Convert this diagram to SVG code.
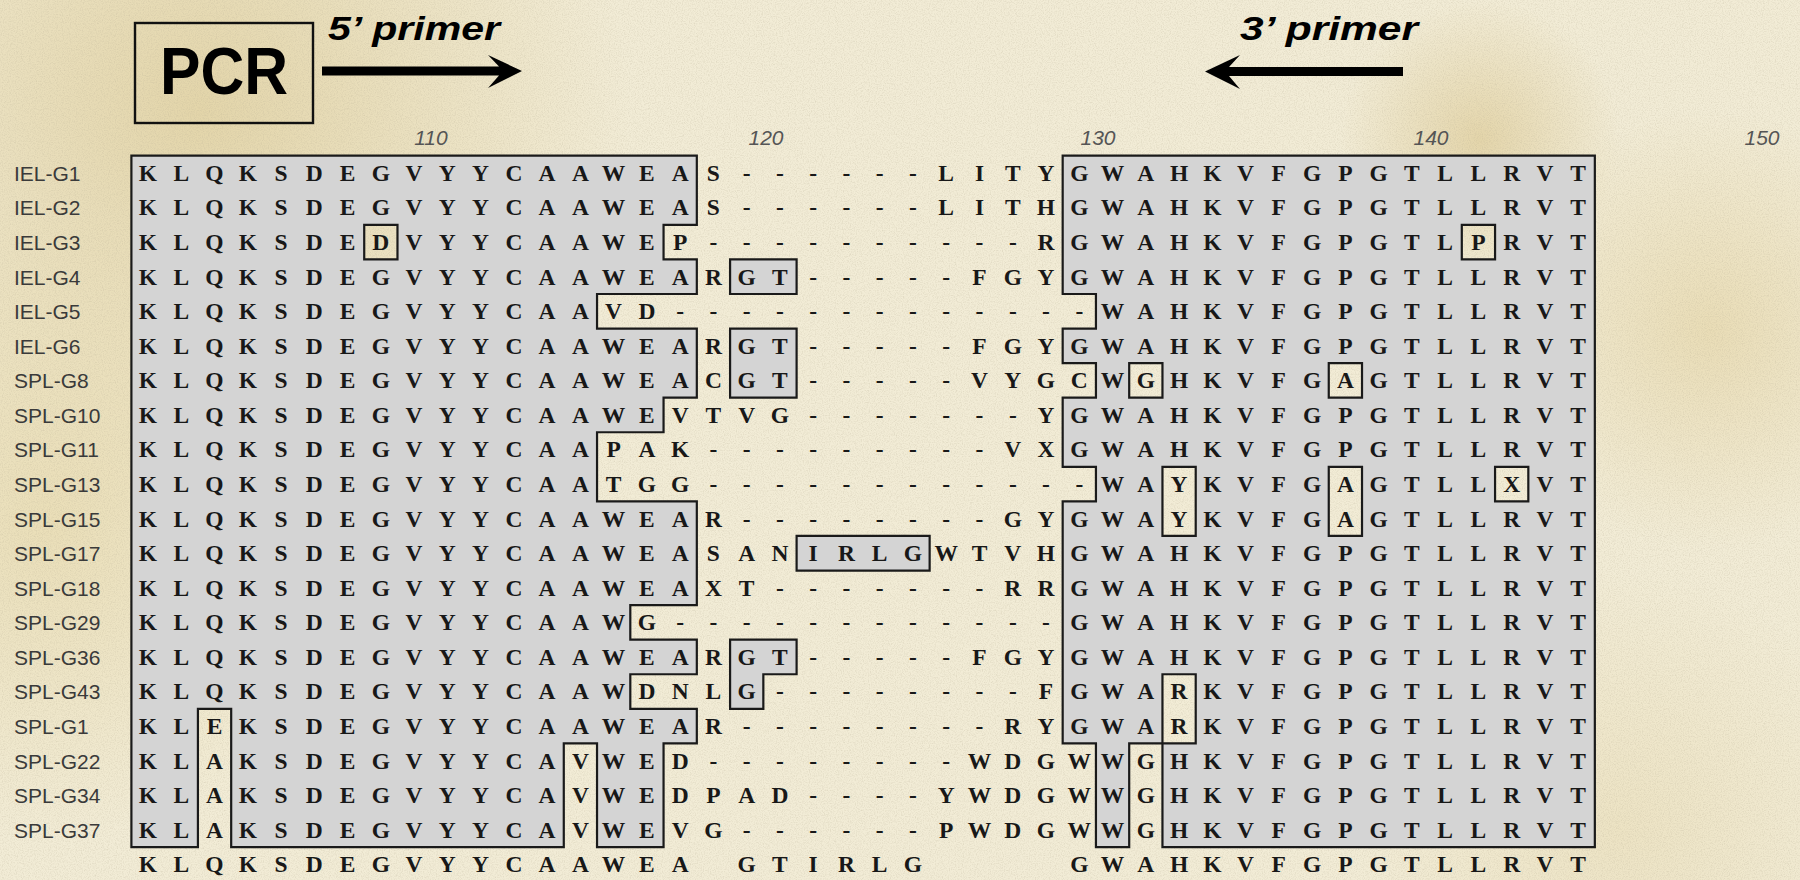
<svg xmlns="http://www.w3.org/2000/svg" width="1800" height="880" viewBox="0 0 1800 880">
<defs>
<style>
.seq{font-family:"Liberation Serif","Times New Roman",serif;font-weight:bold;font-size:23.5px;fill:#181818;text-anchor:middle}
.lab{font-family:"Liberation Sans",Arial,sans-serif;font-size:21px;fill:#3a3a3a}
.num{font-family:"Liberation Sans",Arial,sans-serif;font-style:italic;font-size:21px;fill:#555;text-anchor:middle}
.hdr{font-family:"Liberation Sans",Arial,sans-serif;font-weight:bold;font-style:italic;font-size:34px;fill:#000}
.reg{fill:#d4d4d4;fill-rule:evenodd;stroke:#1a1a1a;stroke-width:2.2;stroke-linejoin:miter}
</style>
<radialGradient id="g1" cx="200" cy="110" r="430" gradientUnits="userSpaceOnUse"><stop offset="0" stop-color="#dfcf9e" stop-opacity="0.8"/><stop offset="1" stop-color="#dfcf9e" stop-opacity="0"/></radialGradient>
<radialGradient id="g2" cx="50" cy="520" r="320" gradientUnits="userSpaceOnUse"><stop offset="0" stop-color="#e6d8aa" stop-opacity="0.7"/><stop offset="1" stop-color="#e6d8aa" stop-opacity="0"/></radialGradient>
<radialGradient id="g3" cx="1480" cy="140" r="140" gradientUnits="userSpaceOnUse"><stop offset="0" stop-color="#d8c286" stop-opacity="0.55"/><stop offset="1" stop-color="#d8c286" stop-opacity="0"/></radialGradient>
<radialGradient id="g4" cx="1710" cy="330" r="220" gradientUnits="userSpaceOnUse"><stop offset="0" stop-color="#e2d09c" stop-opacity="0.55"/><stop offset="1" stop-color="#e2d09c" stop-opacity="0"/></radialGradient>
<radialGradient id="g5" cx="1620" cy="830" r="260" gradientUnits="userSpaceOnUse"><stop offset="0" stop-color="#e6d8ad" stop-opacity="0.45"/><stop offset="1" stop-color="#e6d8ad" stop-opacity="0"/></radialGradient>
<filter id="grain" filterUnits="userSpaceOnUse" x="0" y="0" width="1800" height="880">
<feTurbulence type="fractalNoise" baseFrequency="0.85" numOctaves="2" seed="4"/>
<feColorMatrix type="matrix" values="0 0 0 0 0.45  0 0 0 0 0.40  0 0 0 0 0.28  0.6 0 0 0 -0.25"/>
</filter>
</defs>

<g id="background">
<rect width="1800" height="880" fill="#f2ecd6"/>
<rect width="1800" height="880" fill="url(#g1)"/>
<rect width="1800" height="880" fill="url(#g2)"/>
<rect width="1800" height="880" fill="url(#g3)"/>
<rect width="1800" height="880" fill="url(#g4)"/>
<rect width="1800" height="880" fill="url(#g5)"/>
<rect width="1800" height="880" filter="url(#grain)"/>
</g>

<g id="header">
<g id="pcr">
<rect x="135" y="23" width="178" height="100" fill="none" stroke="#111" stroke-width="2.4"/>
<text x="160" y="94" textLength="128" lengthAdjust="spacingAndGlyphs" style="font-family:'Liberation Sans',Arial,sans-serif;font-weight:bold;font-size:66px;fill:#000">PCR</text>
</g>
<g id="primer5">
<text class="hdr" x="328" y="39.5" textLength="172" lengthAdjust="spacingAndGlyphs">5’ primer</text>
<path d="M322,66.5 H499 L488,55 L522,71 L488,88 L499,75.5 H322 Z" fill="#000"/>
</g>
<g id="primer3">
<text class="hdr" x="1240" y="40" textLength="178" lengthAdjust="spacingAndGlyphs">3’ primer</text>
<path d="M1403,67 H1229 L1240,55 L1205,71.5 L1240,89 L1229,76 H1403 Z" fill="#000"/>
</g>
<g id="ruler">
<text class="num" x="431" y="145">110</text>
<text class="num" x="766" y="145">120</text>
<text class="num" x="1098" y="145">130</text>
<text class="num" x="1431" y="145">140</text>
<text class="num" x="1762" y="145">150</text>
</g>
</g>

<g id="regions" transform="translate(131.4 155.7) scale(33.26 34.57)">
<path id="region-left" class="reg" vector-effect="non-scaling-stroke" d="M0,0H17V2H16V3H17V4H14V5H17V7H16V8H14V10H17V13H15V14H17V15H15V16H17V17H16V20H14V17H13V20H3V16H2V20H0Z M7,2H8V3H7Z"/>
<path id="region-right" class="reg" vector-effect="non-scaling-stroke" d="M28,0H44V20H31V17H30V20H29V17H28V10H29V9H28V7H29V6H28V5H29V4H28Z M40,2H41V3H40Z M30,6H31V7H30Z M36,6H37V7H36Z M31,9H32V11H31Z M36,9H37V11H36Z M41,9H42V10H41Z M31,15H32V17H31Z"/>
<path id="region-mid" class="reg" vector-effect="non-scaling-stroke" d="M18,3H20V4H18Z M18,5H20V7H18Z M20,11H24V12H20Z M18,14H20V15H19V16H18Z"/>
</g>

<g id="labels">
<text class="lab" x="14" y="180.8">IEL-G1</text>
<text class="lab" x="14" y="215.4">IEL-G2</text>
<text class="lab" x="14" y="249.9">IEL-G3</text>
<text class="lab" x="14" y="284.5">IEL-G4</text>
<text class="lab" x="14" y="319.1">IEL-G5</text>
<text class="lab" x="14" y="353.7">IEL-G6</text>
<text class="lab" x="14" y="388.2">SPL-G8</text>
<text class="lab" x="14" y="422.8">SPL-G10</text>
<text class="lab" x="14" y="457.4">SPL-G11</text>
<text class="lab" x="14" y="491.9">SPL-G13</text>
<text class="lab" x="14" y="526.5">SPL-G15</text>
<text class="lab" x="14" y="561.1">SPL-G17</text>
<text class="lab" x="14" y="595.6">SPL-G18</text>
<text class="lab" x="14" y="630.2">SPL-G29</text>
<text class="lab" x="14" y="664.8">SPL-G36</text>
<text class="lab" x="14" y="699.4">SPL-G43</text>
<text class="lab" x="14" y="733.9">SPL-G1</text>
<text class="lab" x="14" y="768.5">SPL-G22</text>
<text class="lab" x="14" y="803.1">SPL-G34</text>
<text class="lab" x="14" y="837.6">SPL-G37</text>
</g>

<g id="sequences">
<text class="seq" y="180.8" x="148 181.3 214.5 247.8 281 314.3 347.6 380.8 414.1 447.3 480.6 513.9 547.1 580.4 613.6 646.9 680.2 713.4 746.7 779.9 813.2 846.5 879.7 913 946.2 979.5 1012.8 1046 1079.3 1112.5 1145.8 1179.1 1212.3 1245.6 1278.8 1312.1 1345.4 1378.6 1411.9 1445.1 1478.4 1511.7 1544.9 1578.2">KLQKSDEGVYYCAAWEAS------LITYGWAHKVFGPGTLLRVT</text>
<text class="seq" y="215.4" x="148 181.3 214.5 247.8 281 314.3 347.6 380.8 414.1 447.3 480.6 513.9 547.1 580.4 613.6 646.9 680.2 713.4 746.7 779.9 813.2 846.5 879.7 913 946.2 979.5 1012.8 1046 1079.3 1112.5 1145.8 1179.1 1212.3 1245.6 1278.8 1312.1 1345.4 1378.6 1411.9 1445.1 1478.4 1511.7 1544.9 1578.2">KLQKSDEGVYYCAAWEAS------LITHGWAHKVFGPGTLLRVT</text>
<text class="seq" y="249.9" x="148 181.3 214.5 247.8 281 314.3 347.6 380.8 414.1 447.3 480.6 513.9 547.1 580.4 613.6 646.9 680.2 713.4 746.7 779.9 813.2 846.5 879.7 913 946.2 979.5 1012.8 1046 1079.3 1112.5 1145.8 1179.1 1212.3 1245.6 1278.8 1312.1 1345.4 1378.6 1411.9 1445.1 1478.4 1511.7 1544.9 1578.2">KLQKSDEDVYYCAAWEP----------RGWAHKVFGPGTLPRVT</text>
<text class="seq" y="284.5" x="148 181.3 214.5 247.8 281 314.3 347.6 380.8 414.1 447.3 480.6 513.9 547.1 580.4 613.6 646.9 680.2 713.4 746.7 779.9 813.2 846.5 879.7 913 946.2 979.5 1012.8 1046 1079.3 1112.5 1145.8 1179.1 1212.3 1245.6 1278.8 1312.1 1345.4 1378.6 1411.9 1445.1 1478.4 1511.7 1544.9 1578.2">KLQKSDEGVYYCAAWEARGT-----FGYGWAHKVFGPGTLLRVT</text>
<text class="seq" y="319.1" x="148 181.3 214.5 247.8 281 314.3 347.6 380.8 414.1 447.3 480.6 513.9 547.1 580.4 613.6 646.9 680.2 713.4 746.7 779.9 813.2 846.5 879.7 913 946.2 979.5 1012.8 1046 1079.3 1112.5 1145.8 1179.1 1212.3 1245.6 1278.8 1312.1 1345.4 1378.6 1411.9 1445.1 1478.4 1511.7 1544.9 1578.2">KLQKSDEGVYYCAAVD-------------WAHKVFGPGTLLRVT</text>
<text class="seq" y="353.7" x="148 181.3 214.5 247.8 281 314.3 347.6 380.8 414.1 447.3 480.6 513.9 547.1 580.4 613.6 646.9 680.2 713.4 746.7 779.9 813.2 846.5 879.7 913 946.2 979.5 1012.8 1046 1079.3 1112.5 1145.8 1179.1 1212.3 1245.6 1278.8 1312.1 1345.4 1378.6 1411.9 1445.1 1478.4 1511.7 1544.9 1578.2">KLQKSDEGVYYCAAWEARGT-----FGYGWAHKVFGPGTLLRVT</text>
<text class="seq" y="388.2" x="148 181.3 214.5 247.8 281 314.3 347.6 380.8 414.1 447.3 480.6 513.9 547.1 580.4 613.6 646.9 680.2 713.4 746.7 779.9 813.2 846.5 879.7 913 946.2 979.5 1012.8 1046 1079.3 1112.5 1145.8 1179.1 1212.3 1245.6 1278.8 1312.1 1345.4 1378.6 1411.9 1445.1 1478.4 1511.7 1544.9 1578.2">KLQKSDEGVYYCAAWEACGT-----VYGCWGHKVFGAGTLLRVT</text>
<text class="seq" y="422.8" x="148 181.3 214.5 247.8 281 314.3 347.6 380.8 414.1 447.3 480.6 513.9 547.1 580.4 613.6 646.9 680.2 713.4 746.7 779.9 813.2 846.5 879.7 913 946.2 979.5 1012.8 1046 1079.3 1112.5 1145.8 1179.1 1212.3 1245.6 1278.8 1312.1 1345.4 1378.6 1411.9 1445.1 1478.4 1511.7 1544.9 1578.2">KLQKSDEGVYYCAAWEVTVG-------YGWAHKVFGPGTLLRVT</text>
<text class="seq" y="457.4" x="148 181.3 214.5 247.8 281 314.3 347.6 380.8 414.1 447.3 480.6 513.9 547.1 580.4 613.6 646.9 680.2 713.4 746.7 779.9 813.2 846.5 879.7 913 946.2 979.5 1012.8 1046 1079.3 1112.5 1145.8 1179.1 1212.3 1245.6 1278.8 1312.1 1345.4 1378.6 1411.9 1445.1 1478.4 1511.7 1544.9 1578.2">KLQKSDEGVYYCAAPAK---------VXGWAHKVFGPGTLLRVT</text>
<text class="seq" y="491.9" x="148 181.3 214.5 247.8 281 314.3 347.6 380.8 414.1 447.3 480.6 513.9 547.1 580.4 613.6 646.9 680.2 713.4 746.7 779.9 813.2 846.5 879.7 913 946.2 979.5 1012.8 1046 1079.3 1112.5 1145.8 1179.1 1212.3 1245.6 1278.8 1312.1 1345.4 1378.6 1411.9 1445.1 1478.4 1511.7 1544.9 1578.2">KLQKSDEGVYYCAATGG------------WAYKVFGAGTLLXVT</text>
<text class="seq" y="526.5" x="148 181.3 214.5 247.8 281 314.3 347.6 380.8 414.1 447.3 480.6 513.9 547.1 580.4 613.6 646.9 680.2 713.4 746.7 779.9 813.2 846.5 879.7 913 946.2 979.5 1012.8 1046 1079.3 1112.5 1145.8 1179.1 1212.3 1245.6 1278.8 1312.1 1345.4 1378.6 1411.9 1445.1 1478.4 1511.7 1544.9 1578.2">KLQKSDEGVYYCAAWEAR--------GYGWAYKVFGAGTLLRVT</text>
<text class="seq" y="561.1" x="148 181.3 214.5 247.8 281 314.3 347.6 380.8 414.1 447.3 480.6 513.9 547.1 580.4 613.6 646.9 680.2 713.4 746.7 779.9 813.2 846.5 879.7 913 946.2 979.5 1012.8 1046 1079.3 1112.5 1145.8 1179.1 1212.3 1245.6 1278.8 1312.1 1345.4 1378.6 1411.9 1445.1 1478.4 1511.7 1544.9 1578.2">KLQKSDEGVYYCAAWEASANIRLGWTVHGWAHKVFGPGTLLRVT</text>
<text class="seq" y="595.6" x="148 181.3 214.5 247.8 281 314.3 347.6 380.8 414.1 447.3 480.6 513.9 547.1 580.4 613.6 646.9 680.2 713.4 746.7 779.9 813.2 846.5 879.7 913 946.2 979.5 1012.8 1046 1079.3 1112.5 1145.8 1179.1 1212.3 1245.6 1278.8 1312.1 1345.4 1378.6 1411.9 1445.1 1478.4 1511.7 1544.9 1578.2">KLQKSDEGVYYCAAWEAXT-------RRGWAHKVFGPGTLLRVT</text>
<text class="seq" y="630.2" x="148 181.3 214.5 247.8 281 314.3 347.6 380.8 414.1 447.3 480.6 513.9 547.1 580.4 613.6 646.9 680.2 713.4 746.7 779.9 813.2 846.5 879.7 913 946.2 979.5 1012.8 1046 1079.3 1112.5 1145.8 1179.1 1212.3 1245.6 1278.8 1312.1 1345.4 1378.6 1411.9 1445.1 1478.4 1511.7 1544.9 1578.2">KLQKSDEGVYYCAAWG------------GWAHKVFGPGTLLRVT</text>
<text class="seq" y="664.8" x="148 181.3 214.5 247.8 281 314.3 347.6 380.8 414.1 447.3 480.6 513.9 547.1 580.4 613.6 646.9 680.2 713.4 746.7 779.9 813.2 846.5 879.7 913 946.2 979.5 1012.8 1046 1079.3 1112.5 1145.8 1179.1 1212.3 1245.6 1278.8 1312.1 1345.4 1378.6 1411.9 1445.1 1478.4 1511.7 1544.9 1578.2">KLQKSDEGVYYCAAWEARGT-----FGYGWAHKVFGPGTLLRVT</text>
<text class="seq" y="699.4" x="148 181.3 214.5 247.8 281 314.3 347.6 380.8 414.1 447.3 480.6 513.9 547.1 580.4 613.6 646.9 680.2 713.4 746.7 779.9 813.2 846.5 879.7 913 946.2 979.5 1012.8 1046 1079.3 1112.5 1145.8 1179.1 1212.3 1245.6 1278.8 1312.1 1345.4 1378.6 1411.9 1445.1 1478.4 1511.7 1544.9 1578.2">KLQKSDEGVYYCAAWDNLG--------FGWARKVFGPGTLLRVT</text>
<text class="seq" y="733.9" x="148 181.3 214.5 247.8 281 314.3 347.6 380.8 414.1 447.3 480.6 513.9 547.1 580.4 613.6 646.9 680.2 713.4 746.7 779.9 813.2 846.5 879.7 913 946.2 979.5 1012.8 1046 1079.3 1112.5 1145.8 1179.1 1212.3 1245.6 1278.8 1312.1 1345.4 1378.6 1411.9 1445.1 1478.4 1511.7 1544.9 1578.2">KLEKSDEGVYYCAAWEAR--------RYGWARKVFGPGTLLRVT</text>
<text class="seq" y="768.5" x="148 181.3 214.5 247.8 281 314.3 347.6 380.8 414.1 447.3 480.6 513.9 547.1 580.4 613.6 646.9 680.2 713.4 746.7 779.9 813.2 846.5 879.7 913 946.2 979.5 1012.8 1046 1079.3 1112.5 1145.8 1179.1 1212.3 1245.6 1278.8 1312.1 1345.4 1378.6 1411.9 1445.1 1478.4 1511.7 1544.9 1578.2">KLAKSDEGVYYCAVWED--------WDGWWGHKVFGPGTLLRVT</text>
<text class="seq" y="803.1" x="148 181.3 214.5 247.8 281 314.3 347.6 380.8 414.1 447.3 480.6 513.9 547.1 580.4 613.6 646.9 680.2 713.4 746.7 779.9 813.2 846.5 879.7 913 946.2 979.5 1012.8 1046 1079.3 1112.5 1145.8 1179.1 1212.3 1245.6 1278.8 1312.1 1345.4 1378.6 1411.9 1445.1 1478.4 1511.7 1544.9 1578.2">KLAKSDEGVYYCAVWEDPAD----YWDGWWGHKVFGPGTLLRVT</text>
<text class="seq" y="837.6" x="148 181.3 214.5 247.8 281 314.3 347.6 380.8 414.1 447.3 480.6 513.9 547.1 580.4 613.6 646.9 680.2 713.4 746.7 779.9 813.2 846.5 879.7 913 946.2 979.5 1012.8 1046 1079.3 1112.5 1145.8 1179.1 1212.3 1245.6 1278.8 1312.1 1345.4 1378.6 1411.9 1445.1 1478.4 1511.7 1544.9 1578.2">KLAKSDEGVYYCAVWEVG------PWDGWWGHKVFGPGTLLRVT</text>
<text id="consensus" class="seq" y="872.2" x="148 181.3 214.5 247.8 281 314.3 347.6 380.8 414.1 447.3 480.6 513.9 547.1 580.4 613.6 646.9 680.2 746.7 779.9 813.2 846.5 879.7 913 1079.3 1112.5 1145.8 1179.1 1212.3 1245.6 1278.8 1312.1 1345.4 1378.6 1411.9 1445.1 1478.4 1511.7 1544.9 1578.2">KLQKSDEGVYYCAAWEAGTIRLGGWAHKVFGPGTLLRVT</text>
</g>
</svg>
